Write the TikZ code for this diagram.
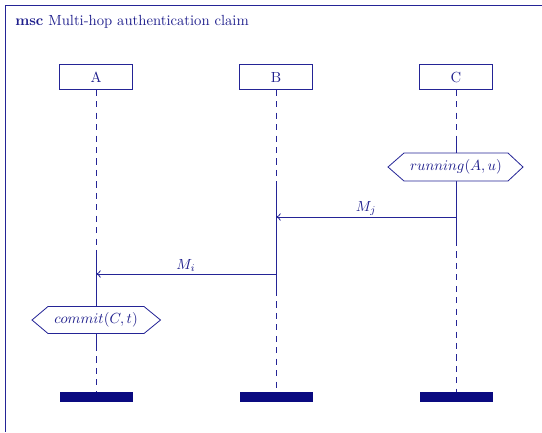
\documentclass[tikz,border=0pt]{standalone}
\usetikzlibrary{arrows.meta}
\definecolor{mscblue}{RGB}{30,30,140}
\definecolor{mscline}{RGB}{36,36,150}
\definecolor{mscnavy}{RGB}{10,10,128}
\begin{document}
\begin{tikzpicture}[x=0.682pt,y=-0.682pt,
  every node/.style={text=mscblue,inner sep=0pt},
  frameline/.style={draw=mscline,line width=0.8pt},
  headbox/.style={draw=mscline,line width=0.55pt,minimum width=49.8pt,minimum height=17pt},
  lifedash/.style={draw=mscline,line width=0.55pt,dash pattern=on 4.2pt off 3.6pt},
  lifesolid/.style={draw=mscline,line width=0.55pt},
  endbar/.style={fill=mscnavy,draw=none},
  condshape/.style={draw=mscline,fill=white,line width=0.55pt},
  msg/.style={draw=mscline,line width=0.55pt,-{To[length=3.2pt,width=5pt]}},
  msglabel/.style={anchor=base}]
\useasboundingbox (0,0) rectangle (542,432);

% enclosing frame (its right and bottom sides lie beyond the page)
\draw[frameline] (542,5.5) -- (5.5,5.5) -- (5.5,432);
\node[anchor=base west] (title) at (15,25) {\textbf{msc} Multi-hop authentication claim};

% instance heads
\node[headbox] (A) at (96,77) {A};
\node[headbox] (B) at (276,77) {B};
\node[headbox] (C) at (456,77) {C};

% points along the lifelines
\coordinate (Aend) at (96,392);
\coordinate (Bend) at (276,392);
\coordinate (Cend) at (456,392);

% lifeline of A
\draw[lifedash] (A.south) -- (96,255);
\draw[lifesolid] (96,255) -- (96,345);
\draw[lifedash] (96,345) -- (Aend);
% lifeline of B
\draw[lifedash] (B.south) -- (276,181);
\draw[lifesolid] (276,181) -- (276,290);
\draw[lifedash] (276,290) -- (Bend);
% lifeline of C
\draw[lifedash] (C.south) -- (456,142);
\draw[lifesolid] (456,142) -- (456,240);
\draw[lifedash] (456,240) -- (Cend);

% instance ends
\fill[endbar] (59.5,392) rectangle (133,402.3);
\fill[endbar] (239.5,392) rectangle (313,402.3);
\fill[endbar] (419.5,392) rectangle (493,402.3);

% condition on C
\draw[condshape] (388,167) -- (404,153) -- (508,153) -- (523,167) -- (508,181) -- (404,181) -- cycle;
\node (running) at (456,167) {$running(A,u)$};

% messages
\coordinate (Cj) at (456,217);
\coordinate (Bj) at (276,217);
\draw[msg] (Cj) -- (Bj);
\node[msglabel] (Mj) at (366,211) {$M_j$};

\coordinate (Bi) at (276,274);
\coordinate (Ai) at (96,274);
\draw[msg] (Bi) -- (Ai);
\node[msglabel] (Mi) at (186,269) {$M_i$};

% condition on A
\draw[condshape] (32,320) -- (48,306.5) -- (144,306.5) -- (160.5,320) -- (144,333.5) -- (48,333.5) -- cycle;
\node (commit) at (96,320) {$commit(C,t)$};
\end{tikzpicture}
\end{document}
